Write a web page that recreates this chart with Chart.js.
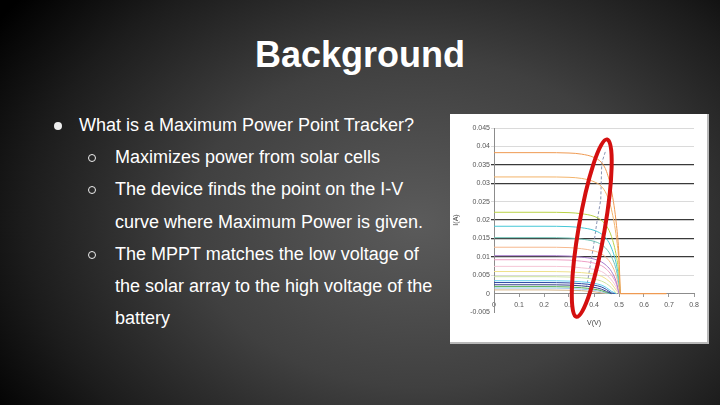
<!DOCTYPE html>
<html>
<head>
<meta charset="utf-8">
<script src="https://cdn.jsdelivr.net/npm/chart.js@4.4.0/dist/chart.umd.min.js"></script>
<style>
html, body { margin: 0; padding: 0; }
body {
    width: 720px; height: 405px; overflow: hidden; position: relative;
    background: radial-gradient(ellipse 70% 90% at 58% 55%, #5b5b5b 0%, #404040 45%, #1c1c1c 78%, #000 100%);
    font-family: "Liberation Sans", Arial, sans-serif; color: #fff;
}
.t { position: absolute; white-space: nowrap; line-height: 1; }
#title { left: 0; width: 720px; text-align: center; top: 37px; font-size: 36px; font-weight: bold; }
.l { font-size: 18px; }
.dot { position: absolute; width: 8px; height: 8px; border-radius: 50%; background: #eee; }
.ring { position: absolute; width: 6px; height: 6px; border-radius: 50%; border: 1px solid #eee; }
#box { position: absolute; left: 450px; top: 114px; width: 257px; height: 228px; background: #fff;
    border-right: 2px solid #b8b8b8; border-bottom: 2px solid #b8b8b8; }
</style>
</head>
<body>
<div id="title" class="t">Background</div>

<div class="dot" style="left:54px; top:122px;"></div>
<div class="t l" style="left:79px; top:116px;">What is a Maximum Power Point Tracker?</div>

<div class="ring" style="left:88px; top:154px;"></div>
<div class="t l" style="left:115px; top:148px;">Maximizes power from solar cells</div>

<div class="ring" style="left:88px; top:186px;"></div>
<div class="t l" style="left:115px; top:180px;">The device finds the point on the I-V</div>
<div class="t l" style="left:115px; top:213px;">curve where Maximum Power is given.</div>

<div class="ring" style="left:88px; top:251px;"></div>
<div class="t l" style="left:115px; top:245px;">The MPPT matches the low voltage of</div>
<div class="t l" style="left:115px; top:277px;">the solar array to the high voltage of the</div>
<div class="t l" style="left:115px; top:309px;">battery</div>

<div id="box"><canvas id="iv_chart" width="257" height="228"></canvas></div>

<script>
// voltage steps shared by every I-V curve
const volts = [0, 0.1, 0.2, 0.3, 0.35, 0.4, 0.43, 0.45, 0.47, 0.49, 0.5, 0.505];

// current of each curve, one per irradiance level (null = past open circuit)
const c1 = [0.0383, 0.0383, 0.0383, 0.0382, 0.0379, 0.0370, 0.0356, 0.0332, 0.0280, 0.0185, 0.0100, 0];
const c2 = [0.0317, 0.0317, 0.0317, 0.0316, 0.0313, 0.0304, 0.0291, 0.0270, 0.0228, 0.0150, 0.0080, 0];
const c3 = [0.0221, 0.0221, 0.0221, 0.0220, 0.0217, 0.0210, 0.0199, 0.0184, 0.0155, 0.0100, 0.0050, 0];
const c4 = [0.0183, 0.0183, 0.0183, 0.0182, 0.0179, 0.0172, 0.0162, 0.0149, 0.0124, 0.0078, 0.0035, 0];
const c5 = [0.0152, 0.0152, 0.0152, 0.0151, 0.0148, 0.0142, 0.0133, 0.0121, 0.0100, 0.0062, 0.0025, 0];
const c6 = [0.0126, 0.0126, 0.0126, 0.0125, 0.0122, 0.0116, 0.0108, 0.0097, 0.0079, 0.0046, 0.0015, 0];
const c7 = [0.0103, 0.0103, 0.0103, 0.0102, 0.0099, 0.0094, 0.0086, 0.0076, 0.0060, 0.0030, 0, null];
const c8 = [0.0092, 0.0092, 0.0092, 0.0091, 0.0088, 0.0083, 0.0076, 0.0066, 0.0050, 0.0025, 0, null];
const c9 = [0.0074, 0.0074, 0.0074, 0.0073, 0.0070, 0.0066, 0.0060, 0.0051, 0.0037, 0.0016, 0, null];
const c10 = [0.0060, 0.0060, 0.0060, 0.0059, 0.0057, 0.0053, 0.0047, 0.0039, 0.0027, 0.0008, 0, null];
const c11 = [0.0046, 0.0046, 0.0046, 0.0045, 0.0043, 0.0039, 0.0034, 0.0027, 0.0016, 0, null, null];
const c12 = [0.0035, 0.0035, 0.0035, 0.0034, 0.0032, 0.0028, 0.0023, 0.0016, 0.0006, 0, null, null];
const c13 = [0.0030, 0.0030, 0.0030, 0.0029, 0.0027, 0.0023, 0.0018, 0.0011, 0.0002, 0, null, null];
const c14 = [0.0024, 0.0024, 0.0024, 0.0023, 0.0021, 0.0017, 0.0012, 0.0006, 0, null, null, null];
const c15 = [0.0019, 0.0019, 0.0019, 0.0018, 0.0016, 0.0012, 0.0008, 0.0003, 0, null, null, null];
const c16 = [0.0015, 0.0015, 0.0015, 0.0014, 0.0012, 0.0009, 0.0005, 0.0001, 0, null, null, null];
const c17 = [0.0010, 0.0010, 0.0010, 0.0009, 0.0008, 0.0005, 0.0002, 0, null, null, null, null];

const curves = [c1, c2, c3, c4, c5, c6, c7, c8, c9, c10, c11, c12, c13, c14, c15, c16, c17];
const curveColors = ['#ef9a52', '#f3b36a', '#b9d245', '#46c7d6', '#6fc2b4', '#f6b88e', '#a67acb', '#ee9fc4',
    '#f5c6d6', '#efe18a', '#cfe5a2', '#5fcdef', '#2a46a3', '#34428a', '#55b055', '#a3c7ee', '#d2b284'];

// zero-current tail after open circuit
const tailV = [0.505, 0.69];
const tailI = [0, 0];

// maximum power point locus
const mppV = [0.445, 0.431, 0.427, 0.411, 0.398, 0.382, 0.371];
const mppI = [0.0385, 0.0355, 0.0255, 0.0192, 0.0128, 0.0065, 0.0019];

// ticks
const xTicks = [0, 0.1, 0.2, 0.3, 0.4, 0.5, 0.6, 0.7, 0.8];
const yTicks = [-0.005, 0, 0.005, 0.01, 0.015, 0.02, 0.025, 0.03, 0.035, 0.04, 0.045];
const darkGrid = [0.035, 0.03, 0.02, 0.015, 0.01];

// circled region (center, data units)
const circleV = 0.391;
const circleI = 0.0178;

function points(xs, ys) {
    return xs.map((x, i) => ({ x: x, y: ys[i] }));
}

const datasets = curves.map((c, k) => ({
    data: points(volts, c),
    borderColor: curveColors[k],
    borderWidth: 1,
    cubicInterpolationMode: 'monotone'
}));

datasets.unshift({
    data: points(tailV, tailI),
    borderColor: '#ef9a52',
    borderWidth: 1.2
});

datasets.push({
    data: points(mppV, mppI),
    borderColor: '#8a94b4',
    borderWidth: 1,
    borderDash: [3, 2]
});

const ringPlugin = {
    id: 'ring',
    afterDatasetsDraw(chart) {
        const ctx = chart.ctx;
        const cx = chart.scales.x.getPixelForValue(circleV);
        const cy = chart.scales.y.getPixelForValue(circleI);
        ctx.save();
        ctx.beginPath();
        ctx.ellipse(cx, cy, 13, 90, 9.8 * Math.PI / 180, 0, Math.PI * 2);
        ctx.lineWidth = 4;
        ctx.strokeStyle = '#d40f0f';
        ctx.stroke();
        ctx.restore();
    }
};

function r3(v) {
    return Math.round(v * 1000) / 1000;
}

new Chart(document.getElementById('iv_chart'), {
    type: 'line',
    data: { datasets: datasets },
    options: {
        responsive: false,
        animation: false,
        events: [],
        elements: { point: { radius: 0 } },
        layout: { padding: { top: 14, right: 13, bottom: 30, left: 0 } },
        plugins: { legend: { display: false }, tooltip: { enabled: false } },
        scales: {
            x: {
                type: 'linear',
                position: { y: 0 },
                min: 0,
                max: 0.8,
                afterBuildTicks: (s) => { s.ticks = xTicks.map(v => ({ value: v })); },
                afterFit: (s) => { s.height = 31; },
                grid: { drawOnChartArea: false, drawTicks: true, tickLength: 3, color: '#999' },
                border: { color: '#8c8c8c', width: 1 },
                ticks: {
                    padding: 4,
                    color: '#555',
                    font: { family: 'Liberation Sans', size: 7 },
                    callback: (v) => v === 0 ? '0' : v.toFixed(1)
                },
                title: {
                    display: true,
                    text: 'V(V)',
                    color: '#444',
                    font: { family: 'Liberation Sans', size: 7 },
                    padding: { top: 0, bottom: -3 }
                }
            },
            y: {
                type: 'linear',
                min: -0.005,
                max: 0.045,
                afterBuildTicks: (s) => { s.ticks = yTicks.map(v => ({ value: v })); },
                afterFit: (s) => { s.width = 44; },
                grid: {
                    drawTicks: true,
                    tickLength: 3,
                    color: (c) => {
                        const v = r3(c.tick.value);
                        if (darkGrid.includes(v)) return '#3a3a3a';
                        if (v <= 0) return 'rgba(0,0,0,0)';
                        return '#dadada';
                    },
                    lineWidth: (c) => darkGrid.includes(r3(c.tick.value)) ? 1.3 : 1
                },
                border: { color: '#8c8c8c', width: 1 },
                ticks: {
                    padding: 1,
                    color: '#555',
                    font: { family: 'Liberation Sans', size: 7 },
                    callback: (v) => String(r3(v))
                },
                title: {
                    display: true,
                    text: 'I(A)',
                    color: '#444',
                    font: { family: 'Liberation Sans', size: 7 },
                    padding: { top: 2, bottom: 0 }
                }
            }
        }
    },
    plugins: [ringPlugin]
});
</script>
</body>
</html>
